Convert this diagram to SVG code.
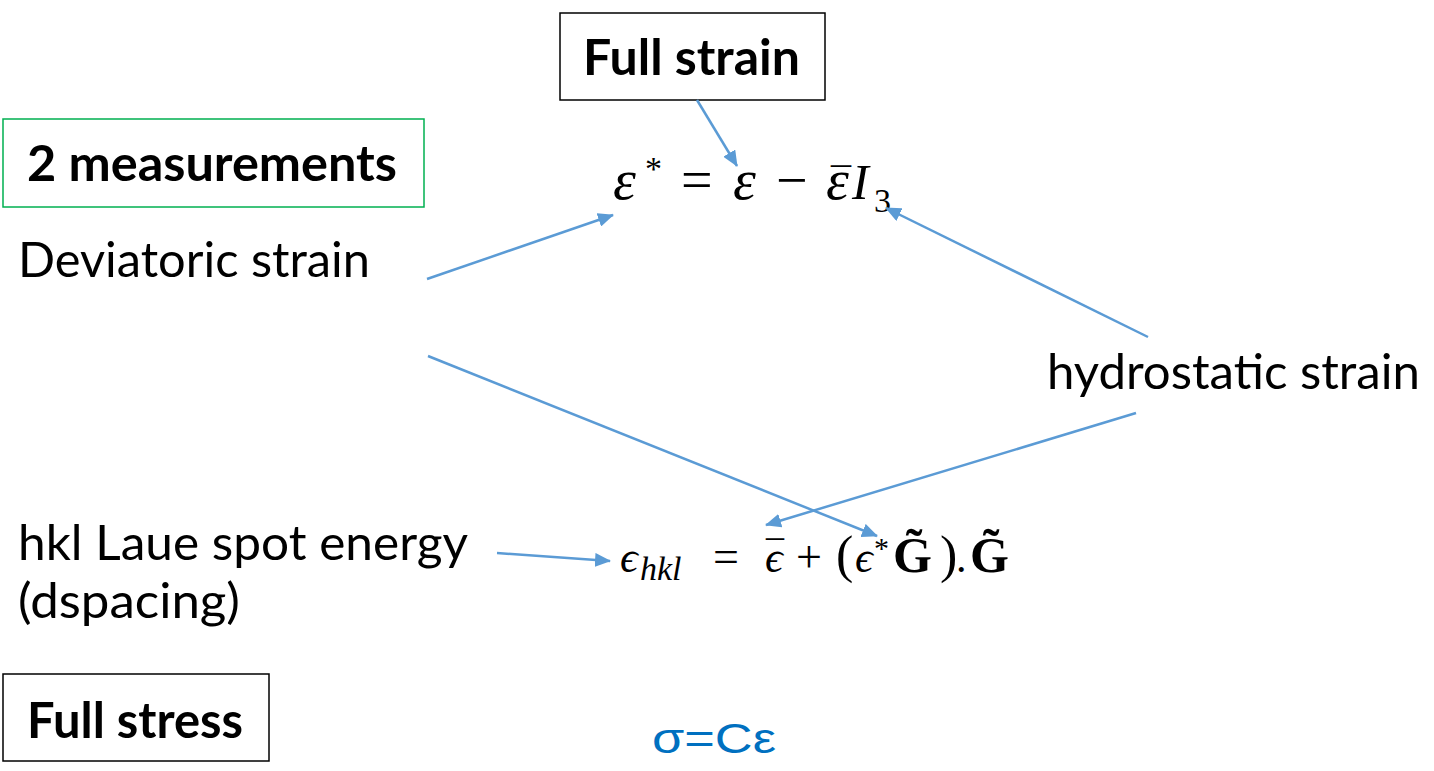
<svg xmlns="http://www.w3.org/2000/svg" width="1434" height="771" viewBox="0 0 1434 771">
<style>
.box{fill:#fff;stroke:#000;stroke-width:1.5}
.gbox{fill:#fff;stroke:#00B050;stroke-width:1.5}
.bt{font-family:Lato,"Open Sans",sans-serif;font-weight:bold;font-size:50px;fill:#000}
.lt{font-family:Lato,"Open Sans",sans-serif;font-size:48px;fill:#000}
.eq{font-family:"Liberation Serif","DejaVu Serif",serif;fill:#000}
.it{font-style:italic}
.bd{font-weight:bold}
.conn line{stroke:#5B9BD5;stroke-width:2.5;fill:none;marker-end:url(#ah)}
</style>
<defs>
<marker id="ah" markerUnits="userSpaceOnUse" markerWidth="16" markerHeight="14" refX="15" refY="7" orient="auto">
<path d="M0,0 L16,7 L0,14 z" fill="#5B9BD5"/>
</marker>
</defs>
<rect width="1434" height="771" fill="#fff"/>
<g id="full-strain">
<rect class="box" x="560" y="13" width="265" height="87"/>
<text class="bt" x="583" y="75" textLength="217" lengthAdjust="spacingAndGlyphs">Full strain</text>
</g>
<g id="two-measurements">
<rect class="gbox" x="3" y="119" width="421" height="88"/>
<text class="bt" x="27" y="181" textLength="370" lengthAdjust="spacingAndGlyphs">2 measurements</text>
</g>
<g id="full-stress">
<rect class="box" x="3" y="674" width="266" height="87"/>
<text class="bt" x="27" y="738" textLength="216" lengthAdjust="spacingAndGlyphs">Full stress</text>
</g>
<g id="deviatoric">
<text class="lt" x="18" y="277" textLength="352" lengthAdjust="spacingAndGlyphs">Deviatoric strain</text>
</g>
<g id="hydrostatic">
<text class="lt" x="1047" y="389" textLength="373" lengthAdjust="spacingAndGlyphs">hydrostatic strain</text>
</g>
<g id="hkl">
<text class="lt" x="18" y="560" textLength="450" lengthAdjust="spacingAndGlyphs">hkl Laue spot energy</text>
<text class="lt" x="18" y="618" textLength="222" lengthAdjust="spacingAndGlyphs">(dspacing)</text>
</g>
<g id="eq1">
<text class="eq" font-size="50" y="199"><tspan class="it" x="613" font-size="58">ε</tspan><tspan x="645" y="180" font-size="34">*</tspan><tspan x="681" y="199" font-size="56">=</tspan><tspan class="it" x="733" font-size="58">ε</tspan><tspan x="776" font-size="56">−</tspan><tspan class="it" x="826" font-size="58">ε</tspan><tspan x="831" y="196" font-size="40">¯</tspan><tspan class="it" x="852" y="199" font-size="50">I</tspan><tspan x="874" y="212" font-size="34">3</tspan></text>
</g>
<g id="eq2">
<text class="eq" font-size="42" y="572"><tspan class="it" x="620" font-size="44">ϵ</tspan><tspan class="it" x="640" y="580" font-size="34">hkl</tspan><tspan x="713" y="572" font-size="46">=</tspan><tspan class="it" x="765" font-size="44">ϵ</tspan><tspan x="766" y="566" font-size="36">¯</tspan><tspan x="796" y="572" font-size="46">+</tspan><tspan x="836" font-size="52">(</tspan><tspan class="it" x="855" font-size="44">ϵ</tspan><tspan x="874" y="558" font-size="30">*</tspan><tspan class="bd" x="893" y="572" font-size="50">G̃</tspan><tspan x="940" font-size="52">)</tspan><tspan x="956">.</tspan><tspan class="bd" x="970" font-size="50">G̃</tspan></text>
</g>
<g id="sigma">
<text x="652" y="753" font-family="'Liberation Sans',Arial,sans-serif" font-size="43" fill="#0070C0" textLength="124" lengthAdjust="spacingAndGlyphs">σ=Cε</text>
</g>
<g id="connectors" class="conn">
<line x1="697" y1="100" x2="737" y2="166"/>
<line x1="427" y1="279" x2="613" y2="215"/>
<line x1="1148" y1="337" x2="886" y2="208"/>
<line x1="428" y1="356" x2="877" y2="536"/>
<line x1="1136" y1="413" x2="766" y2="525"/>
<line x1="497" y1="553" x2="610" y2="561"/>
</g>
</svg>
